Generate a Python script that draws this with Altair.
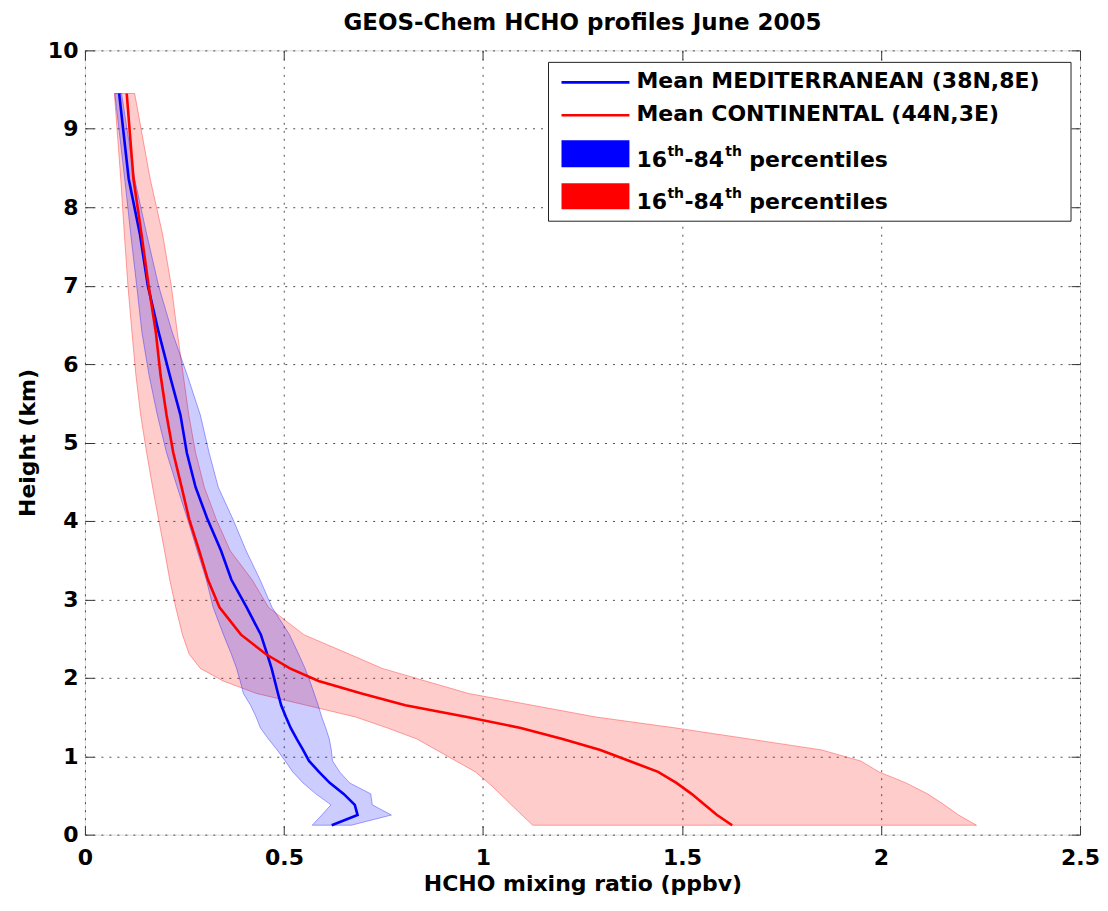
import altair as alt
import pandas as pd

# ---- data ----
heights = [0.12, 0.25, 0.38, 0.52, 0.66, 0.80, 0.94, 1.08, 1.22, 1.36, 1.50, 1.65, 1.80, 1.96, 2.12,
           2.30, 2.55, 2.90, 3.25, 3.62, 4.02, 4.43, 4.87, 5.35, 5.86, 6.41, 7.00, 7.66, 8.36, 9.45]

med_mean = [0.620, 0.685, 0.678, 0.650, 0.615, 0.588, 0.563, 0.548, 0.532, 0.517, 0.505, 0.493, 0.485, 0.477, 0.469,
            0.458, 0.442, 0.406, 0.368, 0.342, 0.308, 0.278, 0.256, 0.240, 0.213, 0.185, 0.158, 0.138, 0.110, 0.086]
med_p16 = [0.571, 0.595, 0.618, 0.580, 0.548, 0.522, 0.503, 0.483, 0.461, 0.441, 0.430, 0.416, 0.398, 0.390, 0.381,
           0.368, 0.348, 0.322, 0.305, 0.282, 0.258, 0.232, 0.205, 0.182, 0.161, 0.143, 0.130, 0.115, 0.100, 0.075]
med_p84 = [0.669, 0.770, 0.722, 0.718, 0.665, 0.640, 0.622, 0.619, 0.614, 0.605, 0.595, 0.586, 0.576, 0.565, 0.553,
           0.537, 0.514, 0.470, 0.440, 0.405, 0.372, 0.335, 0.312, 0.290, 0.257, 0.219, 0.185, 0.155, 0.125, 0.092]

con_mean = [1.626, 1.588, 1.557, 1.524, 1.486, 1.440, 1.368, 1.295, 1.200, 1.095, 0.960, 0.805, 0.695, 0.587, 0.515,
            0.455, 0.392, 0.338, 0.309, 0.287, 0.262, 0.243, 0.222, 0.205, 0.190, 0.178, 0.160, 0.142, 0.122, 0.105]
con_p16 = [1.125, 1.098, 1.071, 1.043, 1.014, 0.981, 0.932, 0.883, 0.834, 0.760, 0.680, 0.556, 0.431, 0.347, 0.290,
           0.262, 0.245, 0.228, 0.213, 0.200, 0.185, 0.170, 0.155, 0.140, 0.128, 0.118, 0.108, 0.099, 0.090, 0.074]
con_p84 = [2.240, 2.195, 2.159, 2.117, 2.063, 1.995, 1.949, 1.851, 1.669, 1.485, 1.284, 1.124, 0.964, 0.855, 0.747,
           0.665, 0.550, 0.461, 0.420, 0.365, 0.330, 0.300, 0.278, 0.261, 0.247, 0.232, 0.217, 0.195, 0.164, 0.125]

x_ticks = [0, 0.5, 1, 1.5, 2, 2.5]
y_ticks = [0, 1, 2, 3, 4, 5, 6, 7, 8, 9, 10]

line_labels = ["Mean MEDITERRANEAN (38N,8E)", "Mean CONTINENTAL (44N,3E)"]
pct_pieces = ["16", "th", "-84", "th", "percentiles"]

title_text = "GEOS-Chem HCHO profiles June 2005"
x_title = "HCHO mixing ratio (ppbv)"
y_title = "Height (km)"

FONT = "DejaVu Sans"
BLUE = "#0000ff"
RED = "#ff0000"

med = pd.DataFrame({"h": heights, "mean": med_mean, "lo": med_p16, "hi": med_p84})
con = pd.DataFrame({"h": heights, "mean": con_mean, "lo": con_p16, "hi": con_p84})

xs = alt.Scale(domain=[0, 2.5], nice=False, zero=False)
ys = alt.Scale(domain=[0, 10], nice=False, zero=False)

main_x_axis = alt.Axis(values=x_ticks, format="~g", title=x_title, grid=True, gridDash=[2, 6],
                       gridColor="#222", gridOpacity=0.8, ticks=False, domain=False,
                       labelFont=FONT, labelFontWeight="bold", labelFontSize=22, labelColor="black",
                       labelPadding=13, titleFont=FONT, titleFontWeight="bold", titleFontSize=22,
                       titleColor="black", titlePadding=5, labelFlush=False)
main_y_axis = alt.Axis(values=y_ticks, format="d", title=y_title, grid=True, gridDash=[2, 6],
                       gridColor="#222", gridOpacity=0.8, ticks=False, domain=False,
                       labelFont=FONT, labelFontWeight="bold", labelFontSize=22, labelColor="black",
                       labelPadding=7, titleFont=FONT, titleFontWeight="bold", titleFontSize=22,
                       titleColor="black", titlePadding=8, labelFlush=False)


def tick_axis(orient, vals):
    return alt.Axis(orient=orient, values=vals, labels=False, domain=False, grid=False, title=None,
                    ticks=True, tickSize=9, tickColor="#333", tickWidth=1, offset=-9)


red_area = alt.Chart(con).mark_area(orient="horizontal", color=RED, fillOpacity=0.2,
                                     stroke=RED, strokeOpacity=0.35, strokeWidth=1).encode(
    x=alt.X("lo:Q", scale=xs, axis=main_x_axis), x2="hi:Q",
    y=alt.Y("h:Q", scale=ys, axis=main_y_axis))
blue_area = alt.Chart(med).mark_area(orient="horizontal", color=BLUE, fillOpacity=0.2,
                                      stroke=BLUE, strokeOpacity=0.35, strokeWidth=1).encode(
    x=alt.X("lo:Q", scale=xs, axis=None), x2="hi:Q",
    y=alt.Y("h:Q", scale=ys, axis=None))
blue_line = alt.Chart(med).mark_line(color=BLUE, strokeWidth=2.6).encode(
    x=alt.X("mean:Q", scale=xs, axis=None), y=alt.Y("h:Q", scale=ys, axis=None), order="h:Q")
red_line = alt.Chart(con).mark_line(color=RED, strokeWidth=2.6).encode(
    x=alt.X("mean:Q", scale=xs, axis=None), y=alt.Y("h:Q", scale=ys, axis=None), order="h:Q")

ticks_bl = alt.Chart(med).mark_point(opacity=0).encode(
    x=alt.X("mean:Q", scale=xs, axis=tick_axis("bottom", x_ticks)),
    y=alt.Y("h:Q", scale=ys, axis=tick_axis("left", y_ticks)))
ticks_tr = alt.Chart(med).mark_point(opacity=0).encode(
    x=alt.X("mean:Q", scale=xs, axis=tick_axis("top", x_ticks)),
    y=alt.Y("h:Q", scale=ys, axis=tick_axis("right", y_ticks)))

# ---- legend (manual, top right) ----
one = pd.DataFrame({"k": [0]})
legend_box = alt.Chart(one).mark_rect(fill="white", stroke="#222", strokeWidth=1).encode(
    x=alt.value(464), x2=alt.value(987), y=alt.value(12), y2=alt.value(171))
sw_blue_line = alt.Chart(one).mark_rule(color=BLUE, strokeWidth=2.6).encode(
    x=alt.value(477), x2=alt.value(545), y=alt.value(32))
sw_red_line = alt.Chart(one).mark_rule(color=RED, strokeWidth=2.6).encode(
    x=alt.value(477), x2=alt.value(545), y=alt.value(65))
sw_blue_rect = alt.Chart(one).mark_rect(color=BLUE).encode(
    x=alt.value(477), x2=alt.value(545), y=alt.value(90), y2=alt.value(117))
sw_red_rect = alt.Chart(one).mark_rect(color=RED).encode(
    x=alt.value(477), x2=alt.value(545), y=alt.value(133), y2=alt.value(159))


def txt(s, x, y, size=22, align="left"):
    d = pd.DataFrame({"t": [s]})
    return alt.Chart(d).mark_text(font=FONT, fontWeight="bold", fontSize=size, align=align,
                                  baseline="alphabetic", color="black").encode(
        text="t:N", x=alt.value(x), y=alt.value(y))


legend_texts = [txt(line_labels[0], 552, 38), txt(line_labels[1], 552, 71)]
piece_x = [552, 583, 600, 641, 665]
piece_size = [22, 14, 22, 14, 22]
piece_dy = [0, -11, 0, -11, 0]
for base in (117, 159):
    for s, px, fs, dy in zip(pct_pieces, piece_x, piece_size, piece_dy):
        legend_texts.append(txt(s, px, base + dy, fs))

chart = alt.layer(
    red_area, blue_area, blue_line, red_line, ticks_bl, ticks_tr,
    legend_box, sw_blue_line, sw_red_line, sw_blue_rect, sw_red_rect, *legend_texts
).resolve_axis(x="independent", y="independent").properties(
    width=996, height=785,
    title=alt.TitleParams(title_text, font=FONT, fontWeight="bold", fontSize=23, anchor="middle",
                          frame="group", baseline="alphabetic", offset=-14, color="black"),
    autosize=alt.AutoSizeParams(type="none"),
    padding={"left": 77, "top": 42, "right": 20, "bottom": 70},
).configure_view(stroke="#333", strokeWidth=1.2).configure(background="white")

chart.save("out.html", embed_options={"renderer": "svg", "actions": False})
